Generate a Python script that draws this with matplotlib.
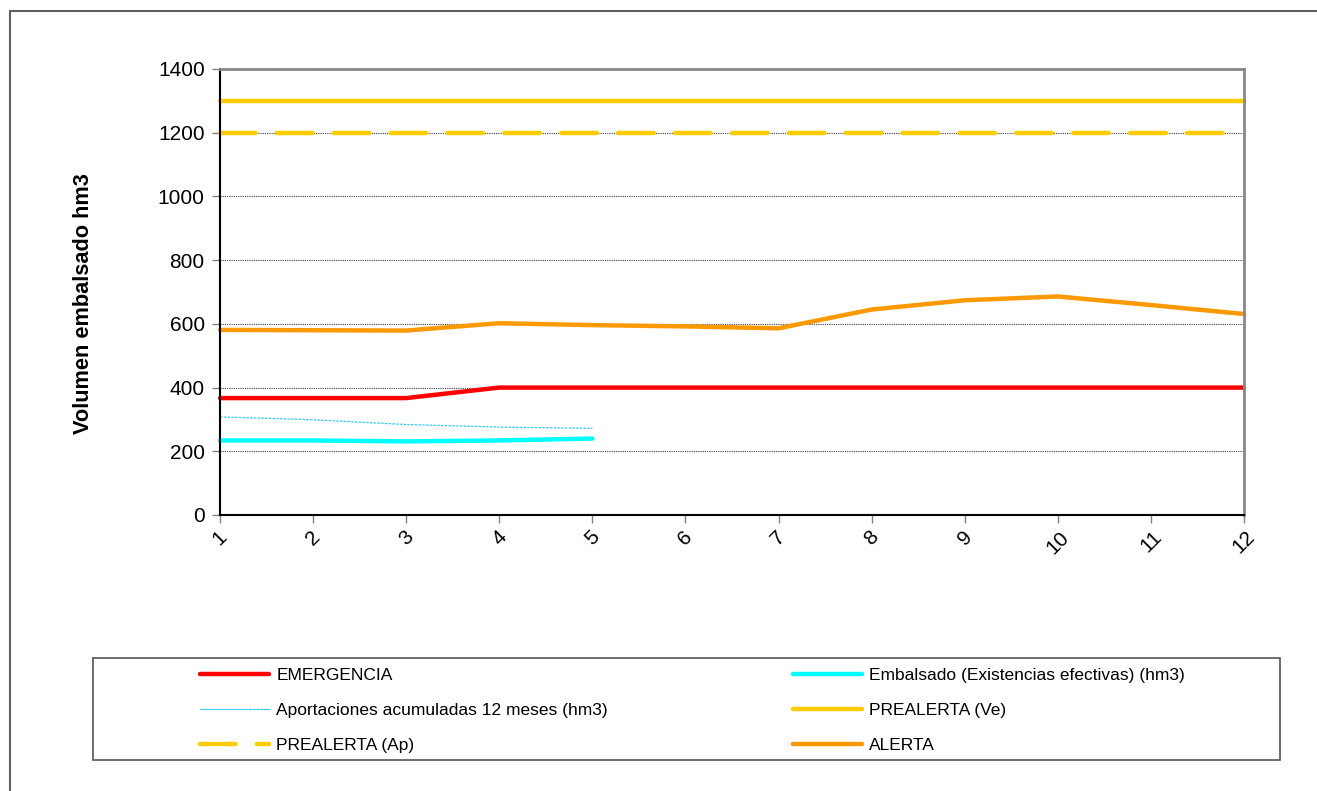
"""
Curvas de estado del embalse: volumen embalsado frente a umbrales de alerta.
"""

import matplotlib
matplotlib.use("Agg")
import matplotlib.pyplot as plt
from matplotlib.patches import Rectangle
from matplotlib.lines import Line2D

plt.rcParams['font.family'] = ['Liberation Sans', 'DejaVu Sans']

# Datos
meses = [1, 2, 3, 4, 5, 6, 7, 8, 9, 10, 11, 12]
emergencia = [367, 367, 367, 400, 400, 400, 400, 400, 400, 400, 400, 400]
alerta = [581, 580, 579, 602, 596, 592, 586, 645, 674, 686, 659, 631]
prealerta_ve = [1300] * 12
prealerta_ap = [1200] * 12
meses_obs = [1, 2, 3, 4, 5]
embalsado = [234, 234, 231, 234, 240]
aportaciones = [308, 299, 284, 276, 272]

W, H = 1317, 791
fig = plt.figure(figsize=(W / 100, H / 100), dpi=100)

# marco exterior (sale por la derecha y por abajo)
fig.patches.append(Rectangle((10 / W, -0.05), 1.1, 1 - 11 / H + 0.05,
                             transform=fig.transFigure, fill=False,
                             edgecolor='#606060', linewidth=1.5))

ax = fig.add_axes([220 / W, 1 - 515 / H, 1024 / W, 446 / H])

lw = 3.2
DASH_AP = (0, (8.0, 4.8))
DOT_APORT = (0, (2, 1))

l_emer, = ax.plot(meses, emergencia, color='#FF0000', lw=lw,
                  solid_capstyle='round', label='EMERGENCIA')
l_aport, = ax.plot(meses_obs, aportaciones, color='#33CCFF', lw=0.9,
                   linestyle=DOT_APORT, label='Aportaciones acumuladas 12 meses (hm3)')
l_ap, = ax.plot(meses, prealerta_ap, color='#FFCC00', lw=lw,
                linestyle=DASH_AP, dash_capstyle='round',
                label='PREALERTA (Ap)')
l_emb, = ax.plot(meses_obs, embalsado, color='#00FFFF', lw=lw,
                 solid_capstyle='round', label='Embalsado (Existencias efectivas) (hm3)')
l_ve, = ax.plot(meses, prealerta_ve, color='#FFCC00', lw=lw,
                solid_capstyle='round', label='PREALERTA (Ve)')
l_al, = ax.plot(meses, alerta, color='#FF9900', lw=lw,
                solid_capstyle='round', label='ALERTA')
for ln in ax.get_lines():
    ln.set_clip_on(False)

ax.set_xlim(1, 12)
ax.set_ylim(0, 1400)
ax.set_yticks(range(0, 1401, 200))
ax.set_xticks(meses)
ax.set_xticklabels([str(m) for m in meses], rotation=45, ha='center')
ax.tick_params(axis='both', labelsize=15, length=6, color='#808080', width=1)
ax.tick_params(axis='x', pad=3)
ax.tick_params(axis='y', pad=5)

ax.yaxis.grid(True, linestyle=(0, (1, 1)), color='#404040', linewidth=0.8)
ax.set_axisbelow(True)
for side in ('top', 'right'):
    ax.spines[side].set_color('#888888')
    ax.spines[side].set_linewidth(2)
ax.spines['left'].set_color('black')
ax.spines['bottom'].set_color('black')
ax.spines['left'].set_linewidth(1.5)
ax.spines['bottom'].set_linewidth(1.5)

ax.set_ylabel('Volumen embalsado hm3', fontsize=15.7, fontweight='bold',
              labelpad=46, y=0.475)

# Leyenda: marco propio y dos columnas
fig.patches.append(Rectangle((93 / W, 1 - 760 / H), (1280 - 93) / W, (760 - 658) / H,
                             transform=fig.transFigure, fill=False,
                             edgecolor='#555555', linewidth=1.2))


def handle_like(line, style):
    return Line2D([], [], color=line.get_color(), lw=line.get_linewidth(),
                  linestyle=style, dash_capstyle='round',
                  solid_capstyle='round')


col1 = [(l_emer, '-'), (l_aport, DOT_APORT), (l_ap, DASH_AP)]
col2 = [(l_emb, '-'), (l_ve, '-'), (l_al, '-')]
legend_kw = dict(frameon=False, fontsize=12.5, handlelength=4.0, handletextpad=0.4,
                 labelspacing=1.15, borderaxespad=0, borderpad=0, loc='upper left')
leg1 = fig.legend([handle_like(l, s) for l, s in col1], [l.get_label() for l, s in col1],
                  bbox_to_anchor=(200 / W, 1 - 668 / H), **legend_kw)
leg2 = fig.legend([handle_like(l, s) for l, s in col2], [l.get_label() for l, s in col2],
                  bbox_to_anchor=(793 / W, 1 - 668 / H), **legend_kw)

fig.savefig('out.png', dpi=100, facecolor='white')
